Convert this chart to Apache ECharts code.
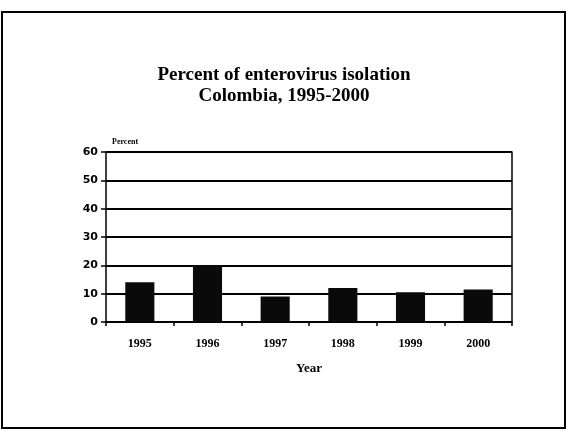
<!doctype html>
<html>
<head>
<meta charset="utf-8">
<title>Percent of enterovirus isolation</title>
<script src="https://cdn.jsdelivr.net/npm/echarts@6/dist/echarts.min.js"></script>
<style>
html,body{margin:0;padding:0;background:#fff;}
#chart{width:568px;height:431px;}
</style>
</head>
<body>
<div id="chart"></div>
<script>
var years = ['1995', '1996', '1997', '1998', '1999', '2000'];
var percents = [14, 20, 9, 12, 10.5, 11.5];
var yTicks = [0, 10, 20, 30, 40, 50, 60];

var font = '"Liberation Serif", "Times New Roman", serif';
var chart = echarts.init(document.getElementById('chart'));
var option = {
	backgroundColor: '#fff',
	animation: false,
	title: {
		text: 'Percent of enterovirus isolation\nColombia, 1995-2000',
		left: 'center',
		top: 60,
		textStyle: {
			fontFamily: font,
			fontWeight: 'bold',
			fontSize: 19,
			lineHeight: 21,
			color: '#000'
		}
	},
	graphic: [
		{
			type: 'rect',
			shape: {x: 2, y: 12, width: 563, height: 416},
			style: {fill: 'none', stroke: '#000', lineWidth: 2}
		},
		{
			type: 'text',
			left: 112,
			top: 138,
			style: {text: 'Percent', font: 'bold 8px ' + font, fill: '#000'}
		}
	],
	grid: {left: 106, right: 56, top: 152, bottom: 109},
	xAxis: {
		type: 'category',
		data: years,
		name: 'Year',
		nameLocation: 'middle',
		nameGap: 40,
		nameTextStyle: {fontFamily: font, fontWeight: 'bold', fontSize: 13, color: '#000'},
		axisLine: {lineStyle: {color: '#000', width: 1.5}},
		axisTick: {show: true, length: 4, lineStyle: {color: '#000', width: 1.5}},
		axisLabel: {fontFamily: font, fontWeight: 'bold', fontSize: 12, color: '#000', margin: 16}
	},
	yAxis: [
		{
			type: 'value',
			min: 0,
			max: 60,
			interval: 10,
			axisLine: {show: true, lineStyle: {color: '#000', width: 1.5}},
			axisTick: {show: true, length: 5, lineStyle: {color: '#000', width: 1.5}},
			axisLabel: {
				fontFamily: '"DejaVu Sans", sans-serif', fontWeight: 'bold', fontSize: 11, color: '#000', margin: 8,
				formatter: function (v) { return yTicks.indexOf(v) >= 0 ? String(v) : ''; }
			},
			splitLine: {show: true, lineStyle: {color: '#000', width: 1.8}}
		},
		{
			type: 'value',
			position: 'right',
			min: 0,
			max: 60,
			interval: 10,
			axisLine: {show: true, lineStyle: {color: '#000', width: 1.5}},
			axisTick: {show: false},
			axisLabel: {show: false},
			splitLine: {show: false}
		}
	],
	series: [
		{
			type: 'bar',
			data: percents,
			barWidth: '43%',
			itemStyle: {color: '#0a0a0a'}
		}
	]
};
chart.setOption(option);
</script>
</body>
</html>
